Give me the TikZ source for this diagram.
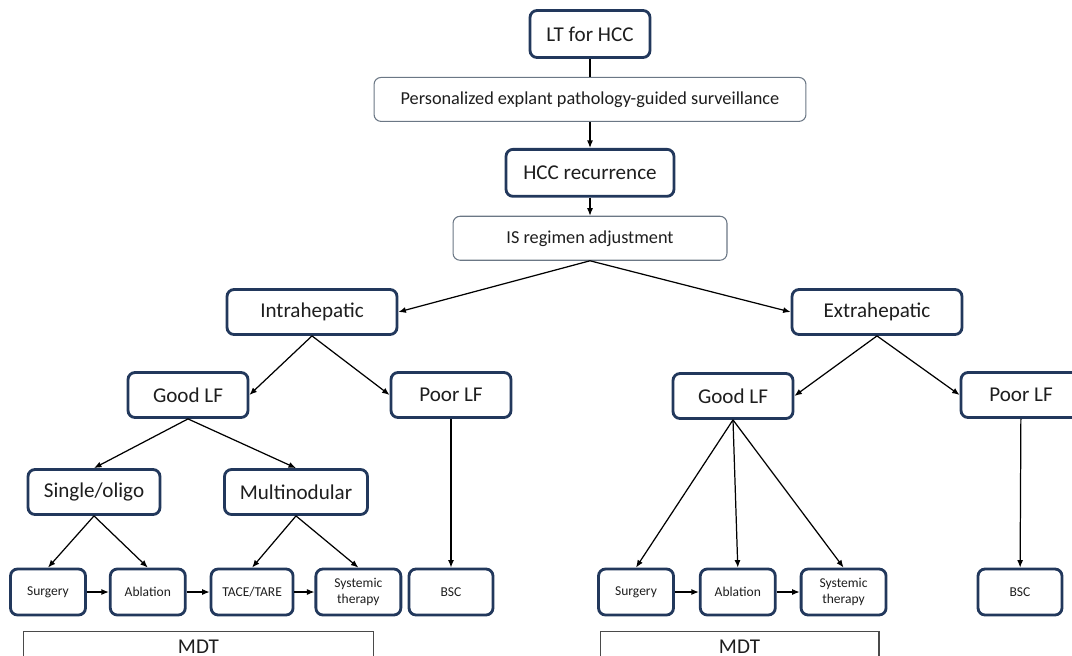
\documentclass[tikz,border=0pt]{standalone}
\usepackage{fontspec}
\setmainfont{Carlito}
\usepackage{tikz}
\usetikzlibrary{arrows.meta,positioning}
\definecolor{Navy}{HTML}{22385C}
\definecolor{Steel}{HTML}{6B7785}
\definecolor{Ink}{HTML}{1E1E1E}
\definecolor{Edge}{HTML}{4A4A4A}
\tikzset{
  keybox/.style={
    rounded corners=4pt,draw=Navy,line width=1.6pt,fill=white,
    minimum height=0.9cm,inner sep=2pt,
    font=\fontsize{12}{14}\selectfont,text=Ink
  },
  stepbox/.style={
    rounded corners=4pt,draw=Steel,line width=0.6pt,fill=white,
    minimum height=0.88cm,font=\fontsize{10.4}{12}\selectfont,text=Ink
  },
  txbox/.style={
    rounded corners=4pt,draw=Navy,line width=1.6pt,fill=white,
    minimum height=0.92cm,minimum width=1.5cm,align=center,inner sep=1pt,
    font=\fontsize{7.7}{8.8}\selectfont,text=Ink
  },
  teambox/.style={
    draw=Edge,line width=0.6pt,minimum height=0.6cm,
    font=\fontsize{12}{14}\selectfont,text=Ink
  },
  arrow/.style={-{Latex[length=1.5mm,width=1.2mm]},line width=0.7pt,draw=black}
}
\begin{document}
\begin{tikzpicture}[x=0.02cm,y=-0.02cm]
      \useasboundingbox (0,0) rectangle (1072,656);
      \clip (0,0) rectangle (1072,656);
      \node[keybox,minimum width=2.4cm,minimum height=0.94cm] (lt) at (590,34) {LT for HCC};
      \node[stepbox,minimum width=8.64cm,below=0.36cm of lt] (surv) {Personalized explant pathology-guided surveillance};
      \node[keybox,minimum width=3.36cm,minimum height=0.94cm,below=0.52cm of surv] (hcc) {HCC recurrence};
      \node[stepbox,minimum width=5.48cm,below=0.36cm of hcc] (is) {IS regimen adjustment};
      \draw[line width=0.7pt] (lt) -- (surv);
      \draw[arrow] (surv) -- (hcc);
      \draw[arrow] (hcc) -- (is);

      \node[keybox,minimum width=3.4cm] (ih) at (312,312) {Intrahepatic};
      \node[keybox,minimum width=3.4cm] (eh) at (877,312) {Extrahepatic};
      \draw[arrow] (is.south) -- (ih.east);
      \draw[arrow] (is.south) -- (eh.west);

      \node[keybox,minimum width=2.4cm] (glfL) at (188,395) {Good LF};
      \node[keybox,minimum width=2.4cm] (plfL) at (451,395) {Poor LF};
      \node[keybox,minimum width=2.4cm] (glfR) at (733,396) {Good LF};
      \node[keybox,minimum width=2.4cm] (plfR) at (1021,395) {Poor LF};
      \draw[arrow] (ih.south) -- (glfL.east);
      \draw[arrow] (ih.south) -- (plfL.west);
      \draw[arrow] (eh.south) -- (glfR.east);
      \draw[arrow] (eh.south) -- (plfR.west);

      \node[keybox,minimum width=2.64cm] (so) at (94,492) {Single/oligo};
      \node[keybox,minimum width=2.86cm] (mn) at (296,492) {Multinodular};
      \draw[arrow] (glfL.south) -- (so.north);
      \draw[arrow] (glfL.south) -- (mn.north);

      \node[txbox] (sgL) at (48,592) {Surgery};
      \node[txbox,right=0.44cm of sgL] (abL) {Ablation};
      \node[txbox,minimum width=1.64cm,right=0.46cm of abL] (tcL) {TACE/TARE};
      \node[txbox,minimum width=1.7cm,right=0.4cm of tcL] (syL) {Systemic\\therapy};
      \node[txbox,minimum width=1.68cm] (bscL) at (451,592) {BSC};
      \draw[arrow] (so.south) -- (sgL.north);
      \draw[arrow] (so.south) -- (abL.north);
      \draw[arrow] (mn.south) -- (tcL.north);
      \draw[arrow] (mn.south) -- (syL.north);
      \draw[arrow] (plfL) -- (bscL);
      \draw[arrow] (sgL) -- (abL);
      \draw[arrow] (abL) -- (tcL);
      \draw[arrow] (tcL) -- (syL);

      \node[txbox] (sgR) at (636,592) {Surgery};
      \node[txbox,right=0.48cm of sgR] (abR) {Ablation};
      \node[txbox,minimum width=1.7cm,right=0.46cm of abR] (syR) {Systemic\\therapy};
      \node[txbox,minimum width=1.68cm] (bscR) at (1020,592) {BSC};
      \draw[arrow] (glfR.south) -- (sgR.north);
      \draw[arrow] (glfR.south) -- (abR.north);
      \draw[arrow] (glfR.south) -- (syR.north);
      \draw[arrow] (plfR) -- (bscR);
      \draw[arrow] (sgR) -- (abR);
      \draw[arrow] (abR) -- (syR);

      \node[teambox,minimum width=7.02cm,anchor=north] (mdtL) at (198.5,631) {MDT};
      \node[teambox,minimum width=5.58cm,anchor=north] (mdtR) at (739.5,631) {MDT};
    \end{tikzpicture}
\end{document}
